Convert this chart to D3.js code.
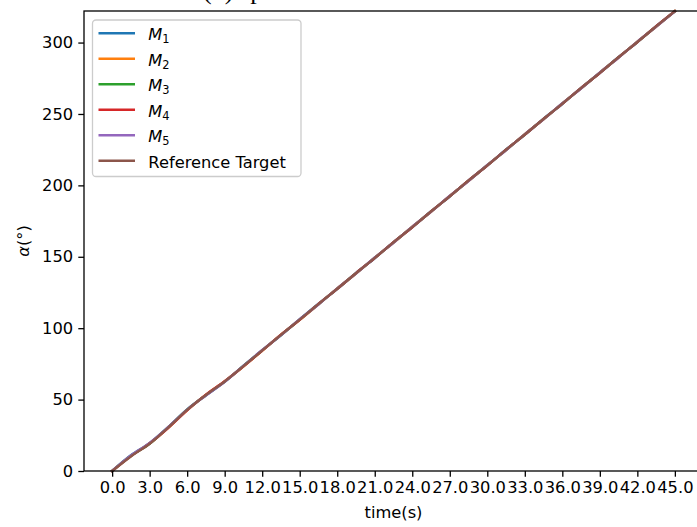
<!DOCTYPE html>
<meta charset="utf-8">
<style>
    body { margin: 0; background: #fff; }
    text { font-family: "DejaVu Sans", sans-serif; fill: #000; }
    .tick text { font-size: 16.3px; }
</style>
<body>
<svg width="697" height="527"></svg>
<script src="https://d3js.org/d3.v7.min.js"></script>
<script>
    // data
    const time = [0, 1.5, 3, 4.5, 6, 7.5, 9, 10.5, 12, 13.5, 15, 16.5, 18, 19.5, 21, 22.5, 24, 25.5, 27, 28.5, 30, 31.5, 33, 34.5, 36, 37.5, 39, 40.5, 42, 43.5, 45];
    const refTarget = [0, 10.2, 19.1, 30.6, 42.8, 53.2, 62.7, 73.4, 84.4, 95.3, 106.0, 116.9, 127.6, 138.5, 149.2, 160.1, 170.8, 181.7, 192.4, 203.3, 214.0, 224.9, 235.6, 246.5, 257.2, 268.1, 278.8, 289.7, 300.4, 311.3, 322.0];
    const m1 = [0, 11.0, 19.6, 30.9, 43.1, 53.0, 62.4, 73.7, 84.6, 95.0, 106.2, 117.1, 127.4, 138.7, 149.0, 160.3, 170.6, 181.9, 192.2, 203.5, 213.8, 225.1, 235.4, 246.7, 257.0, 268.3, 278.6, 289.9, 300.2, 311.5, 321.8];
    const m2 = [0, 10.5, 19.3, 30.4, 42.6, 53.4, 62.9, 73.2, 84.2, 95.5, 105.8, 116.7, 127.8, 138.3, 149.4, 159.9, 171.0, 181.5, 192.6, 203.1, 214.2, 224.7, 235.8, 246.3, 257.4, 267.9, 279.0, 289.5, 300.6, 311.1, 322.1];
    const m3 = [0, 10.7, 19.0, 30.7, 42.9, 53.1, 62.6, 73.5, 84.5, 95.2, 106.1, 116.8, 127.7, 138.4, 149.3, 160.0, 170.9, 181.6, 192.5, 203.2, 214.1, 224.8, 235.7, 246.4, 257.3, 268.0, 278.9, 289.6, 300.5, 311.2, 321.9];
    const m4 = [0, 10.4, 19.4, 30.3, 42.5, 53.5, 62.8, 73.3, 84.3, 95.4, 105.9, 117.0, 127.5, 138.6, 149.1, 160.2, 170.7, 181.8, 192.3, 203.4, 213.9, 225.0, 235.5, 246.6, 257.1, 268.2, 278.7, 289.8, 300.3, 311.4, 321.9];
    const m5 = [0, 10.8, 19.5, 30.8, 43.0, 52.9, 62.5, 73.6, 84.7, 95.1, 106.3, 116.6, 127.9, 138.2, 149.5, 159.8, 171.1, 181.4, 192.7, 203.0, 214.3, 224.6, 235.9, 246.2, 257.5, 267.8, 279.1, 289.4, 300.7, 311.0, 322.0];
    const xTicks = [0, 3, 6, 9, 12, 15, 18, 21, 24, 27, 30, 33, 36, 39, 42, 45];
    const yTicks = [0, 50, 100, 150, 200, 250, 300];

    const series = [
        {name: "M", sub: "1", values: m1, color: "#1f77b4"},
        {name: "M", sub: "2", values: m2, color: "#ff7f0e"},
        {name: "M", sub: "3", values: m3, color: "#2ca02c"},
        {name: "M", sub: "4", values: m4, color: "#d62728"},
        {name: "M", sub: "5", values: m5, color: "#9467bd"},
        {name: "Reference Target", sub: null, values: refTarget, color: "#8c564b"}
    ];

    const svg = d3.select("svg");
    const plotLeft = 84, plotTop = 11, plotBottom = 471, plotRight = 703;

    const x = d3.scaleLinear().domain([-2.25, 47.25]).range([plotLeft, plotRight]);
    const yMax = d3.max(series, s => d3.max(s.values));
    const y = d3.scaleLinear().domain([0, yMax]).range([plotBottom, plotTop]);

    // title, mostly cut off by the top edge (as in the original figure)
    const title = svg.append("text")
        .attr("x", 203).attr("y", -1)
        .style("font-family", "'Liberation Serif', serif")
        .style("font-size", "26px");
    title.append("tspan").text("(b)");
    title.append("tspan").attr("dx", 17).text("phase");

    const line = d3.line()
        .x((d, i) => x(time[i]))
        .y(d => y(d))
        .curve(d3.curveMonotoneX);

    svg.append("g")
        .selectAll("path")
        .data(series)
        .enter().append("path")
        .attr("d", d => line(d.values))
        .attr("fill", "none")
        .attr("stroke", d => d.color)
        .attr("stroke-width", 2.4)
        .attr("stroke-linejoin", "round")
        .attr("stroke-linecap", "square");

    const xAxis = svg.append("g")
        .attr("transform", "translate(0," + plotBottom + ")")
        .call(d3.axisBottom(x).tickValues(xTicks).tickFormat(d3.format(".1f")).tickSize(5.7).tickPadding(5.2));
    const yAxis = svg.append("g")
        .attr("transform", "translate(" + plotLeft + ",0)")
        .call(d3.axisLeft(y).tickValues(yTicks).tickFormat(d3.format("d")).tickSize(5.7).tickPadding(5.2));
    [xAxis, yAxis].forEach(a => {
        a.select(".domain").remove();
        a.selectAll(".tick line").attr("stroke", "#000").attr("stroke-width", 1.3);
        a.selectAll(".tick text").attr("fill", "#000");
    });

    // frame
    svg.append("rect")
        .attr("x", plotLeft).attr("y", plotTop)
        .attr("width", plotRight - plotLeft).attr("height", plotBottom - plotTop)
        .attr("fill", "none").attr("stroke", "#000").attr("stroke-width", 1.3);

    svg.append("text")
        .attr("x", (plotLeft + plotRight) / 2).attr("y", 518)
        .attr("text-anchor", "middle")
        .style("font-size", "16.3px")
        .text("time(s)");

    const yl = svg.append("text")
        .attr("transform", "translate(29," + (plotTop + plotBottom) / 2 + ") rotate(-90)")
        .attr("text-anchor", "middle")
        .style("font-size", "16.3px");
    yl.append("tspan").style("font-style", "italic").text("α");
    yl.append("tspan").text("(°)");

    // legend
    const legend = svg.append("g");
    legend.append("rect")
        .attr("x", 92.5).attr("y", 20)
        .attr("width", 208.5).attr("height", 156.5)
        .attr("rx", 3.5)
        .attr("fill", "#fff").attr("fill-opacity", 0.8)
        .attr("stroke", "#cccccc").attr("stroke-width", 1.3);

    const entry = legend.selectAll("g.entry")
        .data(series)
        .enter().append("g")
        .attr("class", "entry")
        .attr("transform", (d, i) => "translate(0," + (33.3 + i * 25.5) + ")");
    entry.append("line")
        .attr("x1", 98.5).attr("x2", 135)
        .attr("stroke", d => d.color).attr("stroke-width", 2.4);
    const label = entry.append("text")
        .attr("x", 148.3).attr("y", 6.8)
        .style("font-size", "16.3px");
    label.filter(d => d.sub !== null)
        .each(function (d) {
            const t = d3.select(this);
            t.append("tspan").style("font-style", "italic").text(d.name);
            t.append("tspan").attr("dy", 3.2).style("font-size", "11.4px").text(d.sub);
        });
    label.filter(d => d.sub === null).text(d => d.name);
</script>
</body>
